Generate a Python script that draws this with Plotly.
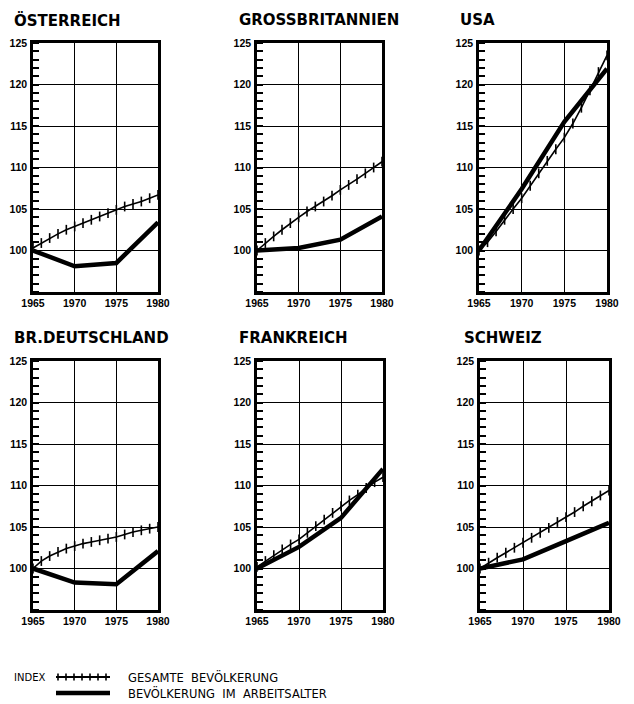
import plotly.graph_objects as go

# ---------------- data ----------------
countries = ["ÖSTERREICH", "GROSSBRITANNIEN", "USA",
             "BR.DEUTSCHLAND", "FRANKREICH", "SCHWEIZ"]

years_all = list(range(1965, 1981))
years_5 = [1965, 1970, 1975, 1980]

# Gesamte Bevölkerung (index)
gesamt_at = [100.3, 100.9, 101.5, 102.0, 102.5, 102.9, 103.3, 103.7, 104.1, 104.5,
             104.9, 105.3, 105.6, 105.9, 106.3, 106.7]
gesamt_gb = [100.0, 100.9, 101.7, 102.5, 103.3, 104.0, 104.7, 105.3, 105.9, 106.6,
             107.3, 107.9, 108.6, 109.3, 110.0, 110.7]
gesamt_us = [100.0, 101.0, 102.3, 103.7, 105.0, 106.3, 107.8, 109.3, 110.8, 112.2,
             113.6, 115.3, 117.2, 119.3, 121.5, 123.5]
gesamt_de = [100.0, 100.9, 101.5, 102.0, 102.4, 102.7, 103.0, 103.2, 103.4, 103.6,
             103.8, 104.1, 104.4, 104.6, 104.8, 105.0]
gesamt_fr = [100.2, 100.9, 101.6, 102.3, 102.9, 103.5, 104.3, 105.1, 105.9, 106.7,
             107.5, 108.2, 108.9, 109.7, 110.4, 111.0]
gesamt_ch = [100.0, 100.7, 101.3, 101.9, 102.5, 103.1, 103.7, 104.3, 104.9, 105.6,
             106.2, 106.8, 107.5, 108.1, 108.8, 109.4]

# Bevölkerung im Arbeitsalter (index)
arbeit_at = [100.0, 98.1, 98.5, 103.4]
arbeit_gb = [100.0, 100.3, 101.3, 104.1]
arbeit_us = [100.0, 107.4, 115.5, 121.9]
arbeit_de = [100.0, 98.3, 98.1, 102.1]
arbeit_fr = [100.0, 102.6, 106.1, 112.0]
arbeit_ch = [100.0, 101.1, 103.3, 105.5]

gesamt = [gesamt_at, gesamt_gb, gesamt_us, gesamt_de, gesamt_fr, gesamt_ch]
arbeit = [arbeit_at, arbeit_gb, arbeit_us, arbeit_de, arbeit_fr, arbeit_ch]

y_ticks = [100, 105, 110, 115, 120, 125]
x_ticks = [1965, 1970, 1975, 1980]

legend_index = "INDEX"
legend_gesamt = "GESAMTE  BEVÖLKERUNG"
legend_arbeit = "BEVÖLKERUNG  IM  ARBEITSALTER"

# ---------------- layout ----------------
# page body has an 8px margin; positions below are page pixels
OFF = 8
W, H = 634 - OFF, 704 - OFF


def px_x(p):
    return (p - OFF) / W


def px_y(p):
    return 1 - (p - OFF) / H


x_doms = [(33, 158), (257, 382), (479, 607), (33, 158), (257, 383), (480, 609)]
y_doms = [(43, 292)] * 3 + [(361, 610)] * 3
title_pos = [(12, 20), (237, 20), (458, 20), (12, 338), (237, 338), (462, 338)]

FONT = "Liberation Sans"
TFONT = "DejaVu Sans"

fig = go.Figure()
layout = dict(width=W, height=H, margin=dict(l=0, r=0, t=0, b=0, autoexpand=False),
              paper_bgcolor="white", plot_bgcolor="white", showlegend=False)

annotations = []
for i in range(6):
    n = i + 1
    xa = "x" if n == 1 else f"x{n}"
    ya = "y" if n == 1 else f"y{n}"
    fig.add_trace(go.Scatter(x=years_all, y=gesamt[i], mode="lines+markers",
                             xaxis=xa, yaxis=ya,
                             line=dict(color="black", width=1.6),
                             marker=dict(symbol="line-ns-open", size=7,
                                         line=dict(color="black", width=1.6)),
                             name=legend_gesamt))
    fig.add_trace(go.Scatter(x=years_5, y=arbeit[i], mode="lines",
                             xaxis=xa, yaxis=ya,
                             line=dict(color="black", width=4.5),
                             name=legend_arbeit))
    x0, x1 = x_doms[i]
    y0, y1 = y_doms[i]
    layout[f"xaxis{'' if n == 1 else n}"] = dict(
        domain=[px_x(x0), px_x(x1)], anchor=ya, range=[1965, 1980],
        tickvals=x_ticks, ticks="", showgrid=True, gridcolor="black",
        gridwidth=1.4, showline=True, linecolor="black", linewidth=2.5,
        mirror=True, zeroline=False, automargin=False, ticklabelstandoff=0,
        tickfont=dict(family=FONT, size=10.5, color="black", weight="bold"))
    layout[f"yaxis{'' if n == 1 else n}"] = dict(
        domain=[px_y(y1), px_y(y0)], anchor=xa, range=[95, 125],
        tickvals=y_ticks, ticks="", showgrid=True, gridcolor="black",
        gridwidth=1.4, showline=True, linecolor="black", linewidth=2.5,
        mirror=True, zeroline=False, ticklabelstandoff=1, automargin=False,
        minor=dict(dtick=1, ticks="inside", ticklen=6, tickwidth=1.5,
                   tickcolor="black", showgrid=False),
        tickfont=dict(family=FONT, size=10.5, color="black", weight="bold"))
    tx, ty = title_pos[i]
    annotations.append(dict(text=countries[i], x=px_x(tx), y=px_y(ty),
                            xref="paper", yref="paper", xanchor="left",
                            yanchor="middle", showarrow=False,
                            font=dict(family=TFONT, size=15, color="black",
                                      weight="bold")))

# legend
annotations.append(dict(text=legend_index, x=px_x(12), y=px_y(677), xref="paper",
                        yref="paper", xanchor="left", yanchor="middle",
                        showarrow=False,
                        font=dict(family=TFONT, size=10, color="black")))
annotations.append(dict(text=legend_gesamt, x=px_x(126), y=px_y(677), xref="paper",
                        yref="paper", xanchor="left", yanchor="middle",
                        showarrow=False,
                        font=dict(family=TFONT, size=11.5, color="black")))
annotations.append(dict(text=legend_arbeit, x=px_x(126), y=px_y(693), xref="paper",
                        yref="paper", xanchor="left", yanchor="middle",
                        showarrow=False,
                        font=dict(family=TFONT, size=11.5, color="black")))

shapes = [dict(type="line", xref="paper", yref="paper", x0=px_x(56), x1=px_x(110),
               y0=px_y(677), y1=px_y(677),
               line=dict(color="black", width=2))]
for k in range(7):
    p = 58 + k * 8
    shapes.append(dict(type="line", xref="paper", yref="paper",
                       x0=px_x(p), x1=px_x(p), y0=px_y(673.5), y1=px_y(680.5),
                       line=dict(color="black", width=1.6)))
shapes.append(dict(type="line", xref="paper", yref="paper", x0=px_x(56), x1=px_x(110),
                   y0=px_y(693), y1=px_y(693),
                   line=dict(color="black", width=4.5)))

layout["annotations"] = annotations
layout["shapes"] = shapes
fig.update_layout(**layout)
fig.write_html("out.html")
